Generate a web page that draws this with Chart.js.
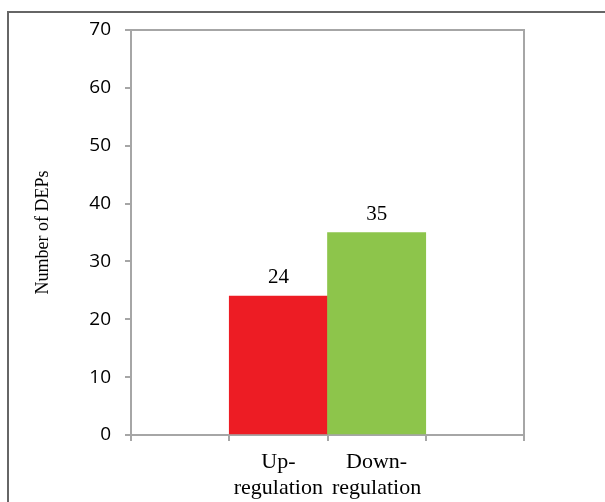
<!DOCTYPE html>
<html>
<head>
<meta charset="utf-8">
<script src="https://cdn.jsdelivr.net/npm/chart.js@4/dist/chart.umd.min.js"></script>
<style>
  body { margin: 0; background: #fff; }
  #wrap { position: relative; width: 605px; height: 502px; overflow: hidden; }
  #frame { position: absolute; left: 7px; top: 11px; width: 700px; height: 600px;
           border-left: 2px solid #666; border-top: 2px solid #666; }
  canvas { position: absolute; left: 0; top: 0; }
</style>
</head>
<body>
<div id="wrap">
  <div id="frame"></div>
  <canvas id="depChart" width="605" height="502"></canvas>
</div>
<script>
// Data
const categories = [['Up-', 'regulation'], ['Down-', 'regulation']];
const values = [24, 35];
const barColors = ['#ed1c24', '#8dc54b'];
const yTicks = [0, 10, 20, 30, 40, 50, 60, 70];

// empty slot on each side, like the original Excel chart
const labels = [''].concat(categories, ['']);
const data = [null].concat(values, [null]);
const colors = ['transparent'].concat(barColors, ['transparent']);

const axisGray = '#a6a6a6';
const serif = '"Liberation Serif", "Times New Roman", serif';

// value above each bar
const valueLabels = {
    id: 'valueLabels',
    afterDatasetsDraw(chart) {
        const ctx = chart.ctx;
        const meta = chart.getDatasetMeta(0);
        ctx.save();
        ctx.font = '21px ' + serif;
        ctx.fillStyle = '#000';
        ctx.textAlign = 'center';
        ctx.textBaseline = 'alphabetic';
        meta.data.forEach((bar, i) => {
            const v = chart.data.datasets[0].data[i];
            if (v === null) return;
            ctx.fillText(String(v), bar.x, bar.y - 13);
        });
        ctx.restore();
    }
};

// top and right edge of the plot area
const plotFrame = {
    id: 'plotFrame',
    afterDraw(chart) {
        const a = chart.chartArea;
        const ctx = chart.ctx;
        ctx.save();
        ctx.strokeStyle = axisGray;
        ctx.lineWidth = 2;
        ctx.beginPath();
        ctx.moveTo(a.left, a.top);
        ctx.lineTo(a.right, a.top);
        ctx.lineTo(a.right, a.bottom);
        ctx.stroke();
        ctx.restore();
    }
};

const ctx = document.getElementById('depChart').getContext('2d');
const chart = new Chart(ctx, {
    type: 'bar',
    data: {
        labels: labels,
        datasets: [{
            data: data,
            backgroundColor: colors,
            borderWidth: 0,
            barPercentage: 1,
            categoryPercentage: 1
        }]
    },
    options: {
        responsive: false,
        animation: false,
        layout: { padding: { left: 0, top: 30, right: 81, bottom: 0 } },
        plugins: { legend: { display: false }, tooltip: { enabled: false } },
        scales: {
            x: {
                afterFit: s => { s.height = 67; },
                grid: { drawOnChartArea: false, drawTicks: true, tickLength: 6, color: axisGray, lineWidth: 2 },
                border: { display: true, color: axisGray, width: 2 },
                ticks: {
                    color: '#000',
                    padding: 8,
                    maxRotation: 0,
                    autoSkip: false,
                    font: { family: serif, size: 22, lineHeight: 1.2 }
                }
            },
            y: {
                min: yTicks[0],
                max: yTicks[yTicks.length - 1],
                afterFit: s => { s.width = 131; },
                afterBuildTicks: s => { s.ticks = yTicks.map(v => ({ value: v })); },
                grid: { drawOnChartArea: false, drawTicks: true, tickLength: 6, color: axisGray, lineWidth: 2 },
                border: { display: true, color: axisGray, width: 2 },
                ticks: {
                    color: '#000',
                    padding: 14,
                    font: { family: '"Open Sans", sans-serif', size: 19 }
                },
                title: {
                    display: true,
                    text: 'Number of DEPs',
                    color: '#000',
                    padding: { top: 32, bottom: 0 },
                    font: { family: serif, size: 18 }
                }
            }
        }
    },
    plugins: [valueLabels, plotFrame]
});
</script>
</body>
</html>
